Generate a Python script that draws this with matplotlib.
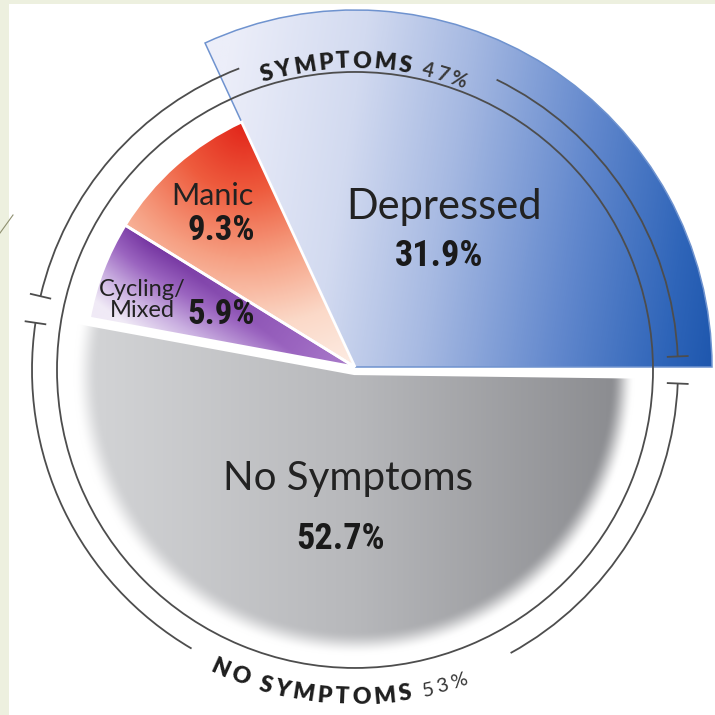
import numpy as np
import matplotlib.pyplot as plt
from matplotlib.patches import Arc, Rectangle
from matplotlib.colors import LinearSegmentedColormap
from matplotlib.font_manager import FontProperties, findfont, get_font

# data
labels = ["Depressed", "Manic", "Cycling/\nMixed", "No Symptoms"]
shares = [31.9, 9.3, 5.9, 52.7]
pct_labels = ["31.9%", "9.3%", "5.9%", "52.7%"]
group_names = ["SYMPTOMS", "NO SYMPTOMS"]
group_pcts = ["47%", "53%"]
group_shares = [47, 53]

PX = 270.0  # pixels per data unit (pie radius)
W, CX, CY = 715, 355, 367  # figure size and pie centre in pixels

fig = plt.figure(figsize=(7.15, 7.15), dpi=100, facecolor="#edf0df")
ax = fig.add_axes([0, 0, 1, 1])

wedges, _ = ax.pie(np.array(shares) / 100, normalize=False, startangle=0,
                   counterclock=True, explode=[0, 0, 0, 0.03], radius=1.0,
                   wedgeprops=dict(facecolor="none", edgecolor="white", linewidth=2))
wedges[0].set_radius(357 / PX)
wedges[0].set_edgecolor("#6f93cf")
wedges[0].set_linewidth(1.1)
wedges[3].set_radius(1.06)
wedges[3].set_edgecolor("none")

xmin, xmax = -CX / PX, (W - CX) / PX
ymin, ymax = -(W - CY) / PX, CY / PX
ax.set_xlim(xmin, xmax)
ax.set_ylim(ymin, ymax)
ax.set_aspect("equal")
ax.axis("off")

ax.add_patch(Rectangle((9 / W, 0), 1 - 9 / W, 1 - 4 / W, transform=ax.transAxes,
                       facecolor="white", edgecolor="none", zorder=-10))
ax.plot([0, 13 / W], [1 - 233 / W, 1 - 215 / W], transform=ax.transAxes,
        color="#8f9070", lw=0.8, zorder=-9)

# gradient fills clipped to each wedge
n = 700
X, Y = np.meshgrid(np.linspace(xmin, xmax, n), np.linspace(ymin, ymax, n))


def ramp(t, stops):
    cm = LinearSegmentedColormap.from_list("g", stops)
    return cm(np.clip(t, 0, 1))[..., :3]


def linear(p0, p1):
    dx, dy = p1[0] - p0[0], p1[1] - p0[1]
    return ((X - p0[0]) * dx + (Y - p0[1]) * dy) / (dx * dx + dy * dy)


fills = []
fills.append(ramp(0.5 * X - 0.08 * Y + 0.33,
                  [(0, "#eceef9"), (0.25, "#d2daf0"), (0.45, "#a6b9e2"),
                   (0.7, "#6288cd"), (0.9, "#2f65b9"), (1, "#1d56ad")]))
fills.append(ramp(np.hypot(X + 0.41, Y - 0.90),
                  ["#e2251a", "#ee5b3d", "#f6a083", "#fbd9c8", "#fdeee6"]))
t_cyc = np.clip(linear((-0.76, 0.47), (-0.98, 0.19)), 0, 1) + 0.5 * np.hypot(X + 0.76, Y - 0.47)
fills.append(ramp(t_cyc, ["#7434a0", "#9b65c0", "#c9aee0", "#f0eaf6"]))
gx, gy = wedges[3].center
gray = ramp((X + 1) / 2, ["#d3d4d6", "#b7b8bb", "#8a8b8f"])
rim = np.clip((np.hypot(X - gx, Y - gy) - 0.95) / 0.09, 0, 1)
rim = rim * rim * (3 - 2 * rim)
fills.append(gray * (1 - rim[..., None]) + rim[..., None])

for w, rgb in zip(wedges, fills):
    im = ax.imshow(rgb, extent=(xmin, xmax, ymin, ymax), origin="lower",
                   interpolation="bilinear", zorder=0.5)
    im.set_clip_path(w)

# brackets around the pie
acx, acy = 0.0, -0.011
r_in, r_out = 298 / PX, 323 / PX
line_kw = dict(color="#4d4d4d", lw=1.3, zorder=4)
ax.add_patch(Arc((acx, acy), 2 * r_in, 2 * r_in, theta1=0, theta2=360, **line_kw))

bounds = np.concatenate([[0], np.cumsum(group_shares) * 3.6])
label_gaps = [(64, 111), (239.6, 298.8)]
tick_gap = 2.4
for i in range(2):
    a0, a1 = bounds[i] + tick_gap, bounds[i + 1] - tick_gap
    g0, g1 = label_gaps[i]
    for t1, t2 in [(a0, g0), (g1, a1)]:
        ax.add_patch(Arc((acx, acy), 2 * r_out, 2 * r_out, theta1=t1, theta2=t2, **line_kw))
    for a in (a0, a1):
        c, s = np.cos(np.radians(a)), np.sin(np.radians(a))
        ax.plot([acx + (r_out - 0.037) * c, acx + (r_out + 0.037) * c],
                [acy + (r_out - 0.037) * s, acy + (r_out + 0.037) * s], **line_kw)


def arc_text(parts, center_deg, r_base_px, top, track=3.0):
    chars = []
    for text, size, weight, color in parts:
        fp = FontProperties(family="Lato", weight=weight, size=size)
        font = get_font(findfont(fp))
        font.set_size(size, 100)
        for ch in text:
            adv = font.load_char(ord(ch)).linearHoriAdvance / 65536
            chars.append((ch, adv, fp, color))
    pos, cum = [], 0.0
    for ch, adv, fp, color in chars:
        pos.append(cum + adv / 2)
        cum += adv + track
    total = cum - track
    r_mid = r_base_px + (8 if top else -8)
    for (ch, adv, fp, color), p in zip(chars, pos):
        d = np.degrees((total / 2 - p) / r_mid)
        th = center_deg + d if top else center_deg - d
        rot = th - 90 if top else th + 90
        r = r_base_px / PX
        ax.text(acx + r * np.cos(np.radians(th)), acy + r * np.sin(np.radians(th)), ch,
                fontproperties=fp, color=color, rotation=rot, rotation_mode="anchor",
                ha="center", va="baseline", zorder=5)


arc_text([(group_names[0] + " ", 16.5, "heavy", "#1e1e1e"),
          (group_pcts[0], 14.5, "bold", "#3a3a3a")], 88.3, 302, True)
arc_text([(group_names[1] + " ", 16.5, "heavy", "#1e1e1e"),
          (group_pcts[1], 14.5, "normal", "#333333")], 267.0, 334, False)

# slice labels
name_pos = [(444, 219), (212, 205), (142, 300), (348, 490)]
name_size = [30, 22, 17, 29]
pct_pos = [(439, 266), (221, 240), (221, 324), (341, 549)]
pct_size = [26, 25, 25, 26]
pct_font = FontProperties(family=["Liberation Sans Narrow", "DejaVu Sans Condensed",
                                  "Roboto Condensed", "Roboto"], weight="bold",
                          stretch="condensed")
for i in range(4):
    nx, ny = name_pos[i]
    ax.text((nx - CX) / PX, (CY - ny) / PX, labels[i], family="Lato", fontsize=name_size[i],
            color="#222222", ha="center", va="center" if "\n" in labels[i] else "baseline",
            linespacing=0.95, zorder=5)
    px_, py_ = pct_pos[i]
    ax.text((px_ - CX) / PX, (CY - py_) / PX, pct_labels[i], fontproperties=pct_font,
            fontsize=pct_size[i], color="#1a1a1a", ha="center", va="baseline", zorder=5)

fig.savefig("out.png", dpi=100, facecolor=fig.get_facecolor())
